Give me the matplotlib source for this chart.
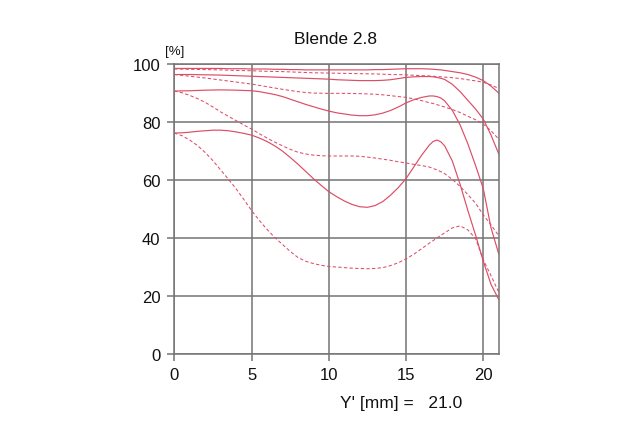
import matplotlib
matplotlib.use("Agg")
import matplotlib.pyplot as plt

plt.rcParams['font.family'] = ['Liberation Sans', 'DejaVu Sans']

# image height Y' [mm]
x = [0, 0.5, 1, 1.5, 2, 2.5, 3, 3.5, 4, 4.5,
     5, 5.5, 6, 6.5, 7, 7.5, 8, 8.5, 9, 9.5,
     10, 10.5, 11, 11.5, 12, 12.5, 13, 13.5, 14, 14.5,
     15, 15.5, 16, 16.5, 16.75, 17, 17.25, 17.5, 18, 18.5,
     19, 19.5, 20, 20.5, 21]

# contrast [%], solid lines
s1 = [98.5, 98.5, 98.5, 98.5, 98.5, 98.5, 98.5, 98.4, 98.4, 98.4,
      98.3, 98.3, 98.3, 98.2, 98.2, 98.1, 98.1, 98.0, 98.0, 98.0,
      98.0, 98.0, 98.0, 98.0, 98.0, 98.0, 98.1, 98.1, 98.2, 98.3,
      98.4, 98.4, 98.4, 98.3, 98.2, 98.1, 98.0, 97.8, 97.4, 97.0,
      96.4, 95.5, 94.3, 92.4, 90.0]
s2 = [96.4, 96.4, 96.4, 96.35, 96.3, 96.25, 96.2, 96.1, 96.0, 95.9,
      95.8, 95.7, 95.6, 95.5, 95.4, 95.3, 95.2, 95.1, 95.0, 94.9,
      94.8, 94.6, 94.5, 94.4, 94.3, 94.3, 94.3, 94.4, 94.6, 95.0,
      95.4, 95.6, 95.7, 95.7, 95.6, 95.4, 95.1, 94.7, 93.0, 90.5,
      87.5, 84.5, 81.0, 75.5, 69.0]
s3 = [90.7, 90.75, 90.8, 90.9, 91.0, 91.05, 91.1, 91.05, 91.0, 90.9,
      90.8, 90.5, 90.0, 89.5, 88.8, 87.9, 87.0, 86.1, 85.3, 84.5,
      83.8, 83.2, 82.8, 82.4, 82.2, 82.2, 82.5, 83.1, 84.0, 85.2,
      86.6, 87.7, 88.5, 89.0, 89.0, 88.8, 88.3, 87.3, 84.0, 79.0,
      72.5, 65.0, 57.0, 43.5, 34.5]
s4 = [76.2, 76.3, 76.5, 76.8, 77.0, 77.2, 77.2, 77.0, 76.6, 76.1,
      75.5, 74.5, 73.3, 71.8, 70.0, 67.8, 65.5, 63.0, 60.5, 58.2,
      56.0, 54.3, 52.8, 51.6, 50.8, 50.6, 51.2, 52.6, 54.8, 57.4,
      60.5, 64.5, 68.5, 72.0, 73.3, 73.8, 73.2, 71.8, 66.5, 58.5,
      49.5, 41.0, 32.0, 24.0, 18.8]

# contrast [%], dashed lines
d1 = [98.3, 98.25, 98.2, 98.15, 98.1, 98.05, 98.0, 97.9, 97.8, 97.75,
      97.7, 97.6, 97.5, 97.45, 97.4, 97.3, 97.2, 97.1, 97.0, 96.95,
      96.9, 96.85, 96.8, 96.75, 96.7, 96.65, 96.6, 96.5, 96.4, 96.35,
      96.3, 96.15, 96.0, 95.9, 95.8, 95.7, 95.6, 95.5, 95.3, 95.0,
      94.6, 94.2, 93.7, 92.8, 91.6]
d2 = [96.4, 96.1, 95.8, 95.5, 95.2, 94.85, 94.5, 94.15, 93.8, 93.45,
      93.1, 92.65, 92.2, 91.75, 91.3, 90.9, 90.5, 90.2, 90.0, 89.95,
      89.9, 89.9, 89.9, 89.85, 89.8, 89.7, 89.6, 89.4, 89.1, 88.8,
      88.5, 88.0, 87.4, 86.7, 86.4, 86.0, 85.6, 85.2, 84.3, 83.3,
      82.0, 80.8, 79.3, 77.0, 74.1]
d3 = [90.7, 90.1, 89.2, 88.1, 86.8, 85.2, 83.5, 82.0, 80.5, 79.0,
      77.6, 76.0, 74.5, 73.1, 71.8, 70.6, 69.6, 69.0, 68.6, 68.4,
      68.3, 68.3, 68.3, 68.3, 68.2, 67.9, 67.6, 67.2, 66.8, 66.3,
      65.9, 65.4, 65.0, 64.5, 64.0, 63.5, 62.9, 62.2, 60.2, 57.8,
      55.0, 52.0, 48.0, 44.5, 40.8]
d4 = [76.2, 75.3, 73.8, 71.9, 69.5, 66.7, 63.5, 60.3, 57.0, 53.3,
      49.5, 46.1, 43.0, 40.2, 37.8, 35.4, 33.3, 32.0, 31.2, 30.6,
      30.2, 30.0, 29.8, 29.6, 29.5, 29.4, 29.5, 29.8, 30.5, 31.5,
      32.8, 34.4, 36.3, 38.2, 39.1, 40.0, 40.9, 41.8, 43.5, 44.2,
      42.8, 39.8, 32.5, 27.0, 21.3]

xticks = [0, 5, 10, 15, 20]
yticks = [0, 20, 40, 60, 80, 100]

red = '#dc4d66'
grey = '#747474'

fig = plt.figure(figsize=(6.4, 4.27), dpi=100)
ax = fig.add_axes([0.2723, 0.1686, 0.507, 0.679])

for s in [s1, s2, s3, s4]:
    ax.plot(x, s, color=red, lw=0.85)
for d in [d1, d2, d3, d4]:
    ax.plot(x, d, color=red, lw=0.75, ls=(0, (3.2, 2.2)))

ax.set_xlim(0, 21)
ax.set_ylim(0, 100)
ax.set_xticks(xticks)
ax.set_yticks(yticks)
ax.grid(True, color=grey, lw=1.1)
ax.set_axisbelow(True)
for sp in ax.spines.values():
    sp.set_color(grey)
    sp.set_linewidth(1.1)
ax.tick_params(direction='out', length=5, width=1.1, color=grey, labelsize=12,
               labelcolor='#111111')
ax.tick_params(axis='y', pad=5.0)
ax.tick_params(axis='x', pad=4.6)

fig.text(0.525, 1 - 39.5 / 427, 'Blende 2.8', ha='center', va='center', fontsize=12.5,
         color='#111111')
fig.text(165 / 640, 1 - 52 / 427, '[%]', ha='left', va='center', fontsize=9.5,
         color='#111111')
fig.text(340 / 640, 1 - 404 / 427, "Y' [mm] =   21.0", ha='left', va='center',
         fontsize=12.5, color='#111111')

fig.savefig('out.png', dpi=100)
